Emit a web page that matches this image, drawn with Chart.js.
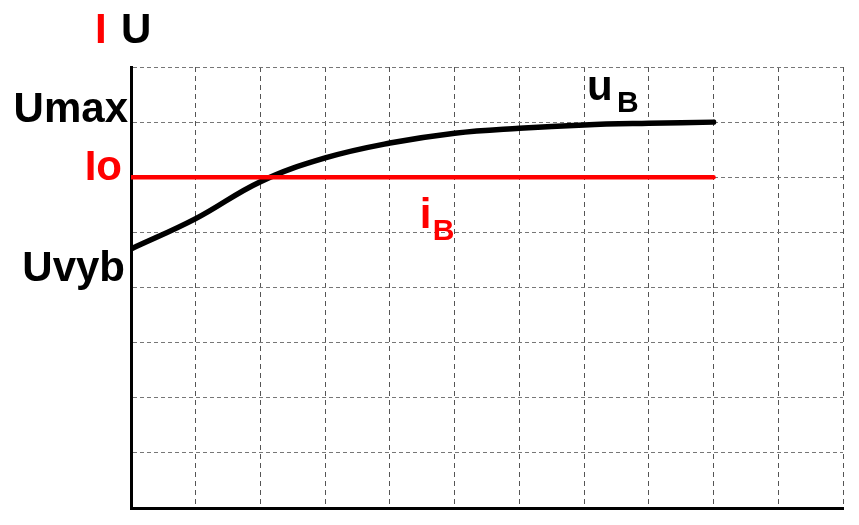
<!DOCTYPE html>
<html>
<head>
<meta charset="utf-8">
<script src="https://cdn.jsdelivr.net/npm/chart.js@4/dist/chart.umd.min.js"></script>
<style>
  html, body { margin: 0; padding: 0; background: #fff; }
  #wrap { width: 859px; height: 525px; }
</style>
</head>
<body>
<div id="wrap"><canvas id="chart" width="859" height="525"></canvas></div>
<script>
// x positions of the curve samples (grid units)
const xValues = [0, 1, 2, 3, 4, 5, 6, 7, 8, 9];
// voltage curve u_B
const uValues = [4.7, 5.25, 5.92, 6.35, 6.62, 6.8, 6.89, 6.95, 6.98, 7.0];
// constant current i_B = Io
const iXValues = [0, 9];
const iValues = [6, 6];
// levels named on the left of the axis
const levelNames = ["Umax", "Io", "Uvyb"];
const levelValues = [7, 6, 4.7];
const levelColors = ["#000", "#ff0000", "#000"];

const FONT = "'Liberation Sans', Arial, sans-serif";

const labelsPlugin = {
  id: "labels",
  afterDraw(chart) {
    const ctx = chart.ctx;
    const xs = chart.scales.x;
    const ys = chart.scales.y;
    ctx.save();
    ctx.textBaseline = "alphabetic";

    // names on the left
    const offsets = [0, 3, 32];
    const rights = [128, 122, 125];
    ctx.textAlign = "right";
    ctx.font = "bold 42px " + FONT;
    levelNames.forEach((name, i) => {
      ctx.fillStyle = levelColors[i];
      ctx.fillText(name, rights[i], ys.getPixelForValue(levelValues[i]) + offsets[i]);
    });

    // axis title "I U"
    ctx.textAlign = "left";
    ctx.fillStyle = "#ff0000";
    ctx.fillText("I", 95, 43);
    ctx.fillStyle = "#000";
    ctx.fillText("U", 121, 43);

    // curve labels
    ctx.fillStyle = "#000";
    ctx.fillText("u", xs.getPixelForValue(7) + 3, 100);
    ctx.font = "bold 30px " + FONT;
    ctx.fillText("B", xs.getPixelForValue(7) + 33, 112);

    ctx.fillStyle = "#ff0000";
    ctx.font = "bold 42px " + FONT;
    ctx.fillText("i", xs.getPixelForValue(4.6) - 9, 228);
    ctx.font = "bold 30px " + FONT;
    ctx.fillText("B", xs.getPixelForValue(4.6) + 4, 240);
    ctx.restore();
  },
};

new Chart(document.getElementById("chart"), {
  type: "line",
  data: {
    datasets: [
      {
        label: "iB",
        data: iXValues.map((x, i) => ({ x: x, y: iValues[i] })),
        borderColor: "#ff0000",
        borderWidth: 4.5,
        borderCapStyle: "round",
        pointRadius: 0,
        tension: 0,
      },
      {
        label: "uB",
        data: xValues.map((x, i) => ({ x: x, y: uValues[i] })),
        borderColor: "#000",
        borderWidth: 5.5,
        borderCapStyle: "round",
        pointRadius: 0,
        tension: 0.4,
      },
    ],
  },
  options: {
    responsive: false,
    animation: false,
    layout: { padding: { left: 131, top: 67, right: 16, bottom: 17 } },
    plugins: {
      legend: { display: false },
      tooltip: { enabled: false },
    },
    scales: {
      x: {
        type: "linear",
        min: 0,
        max: 11,
        ticks: { display: false, stepSize: 1 },
        grid: { color: "#555", lineWidth: 1, drawTicks: false },
        border: { display: true, color: "#000", width: 3, dash: [5, 4] },
      },
      y: {
        type: "linear",
        min: 0,
        max: 8,
        ticks: { display: false, stepSize: 1 },
        grid: { color: "#777", lineWidth: 1, drawTicks: false },
        border: { display: true, color: "#000", width: 3, dash: [4, 3] },
      },
    },
  },
  plugins: [labelsPlugin],
});
</script>
</body>
</html>
